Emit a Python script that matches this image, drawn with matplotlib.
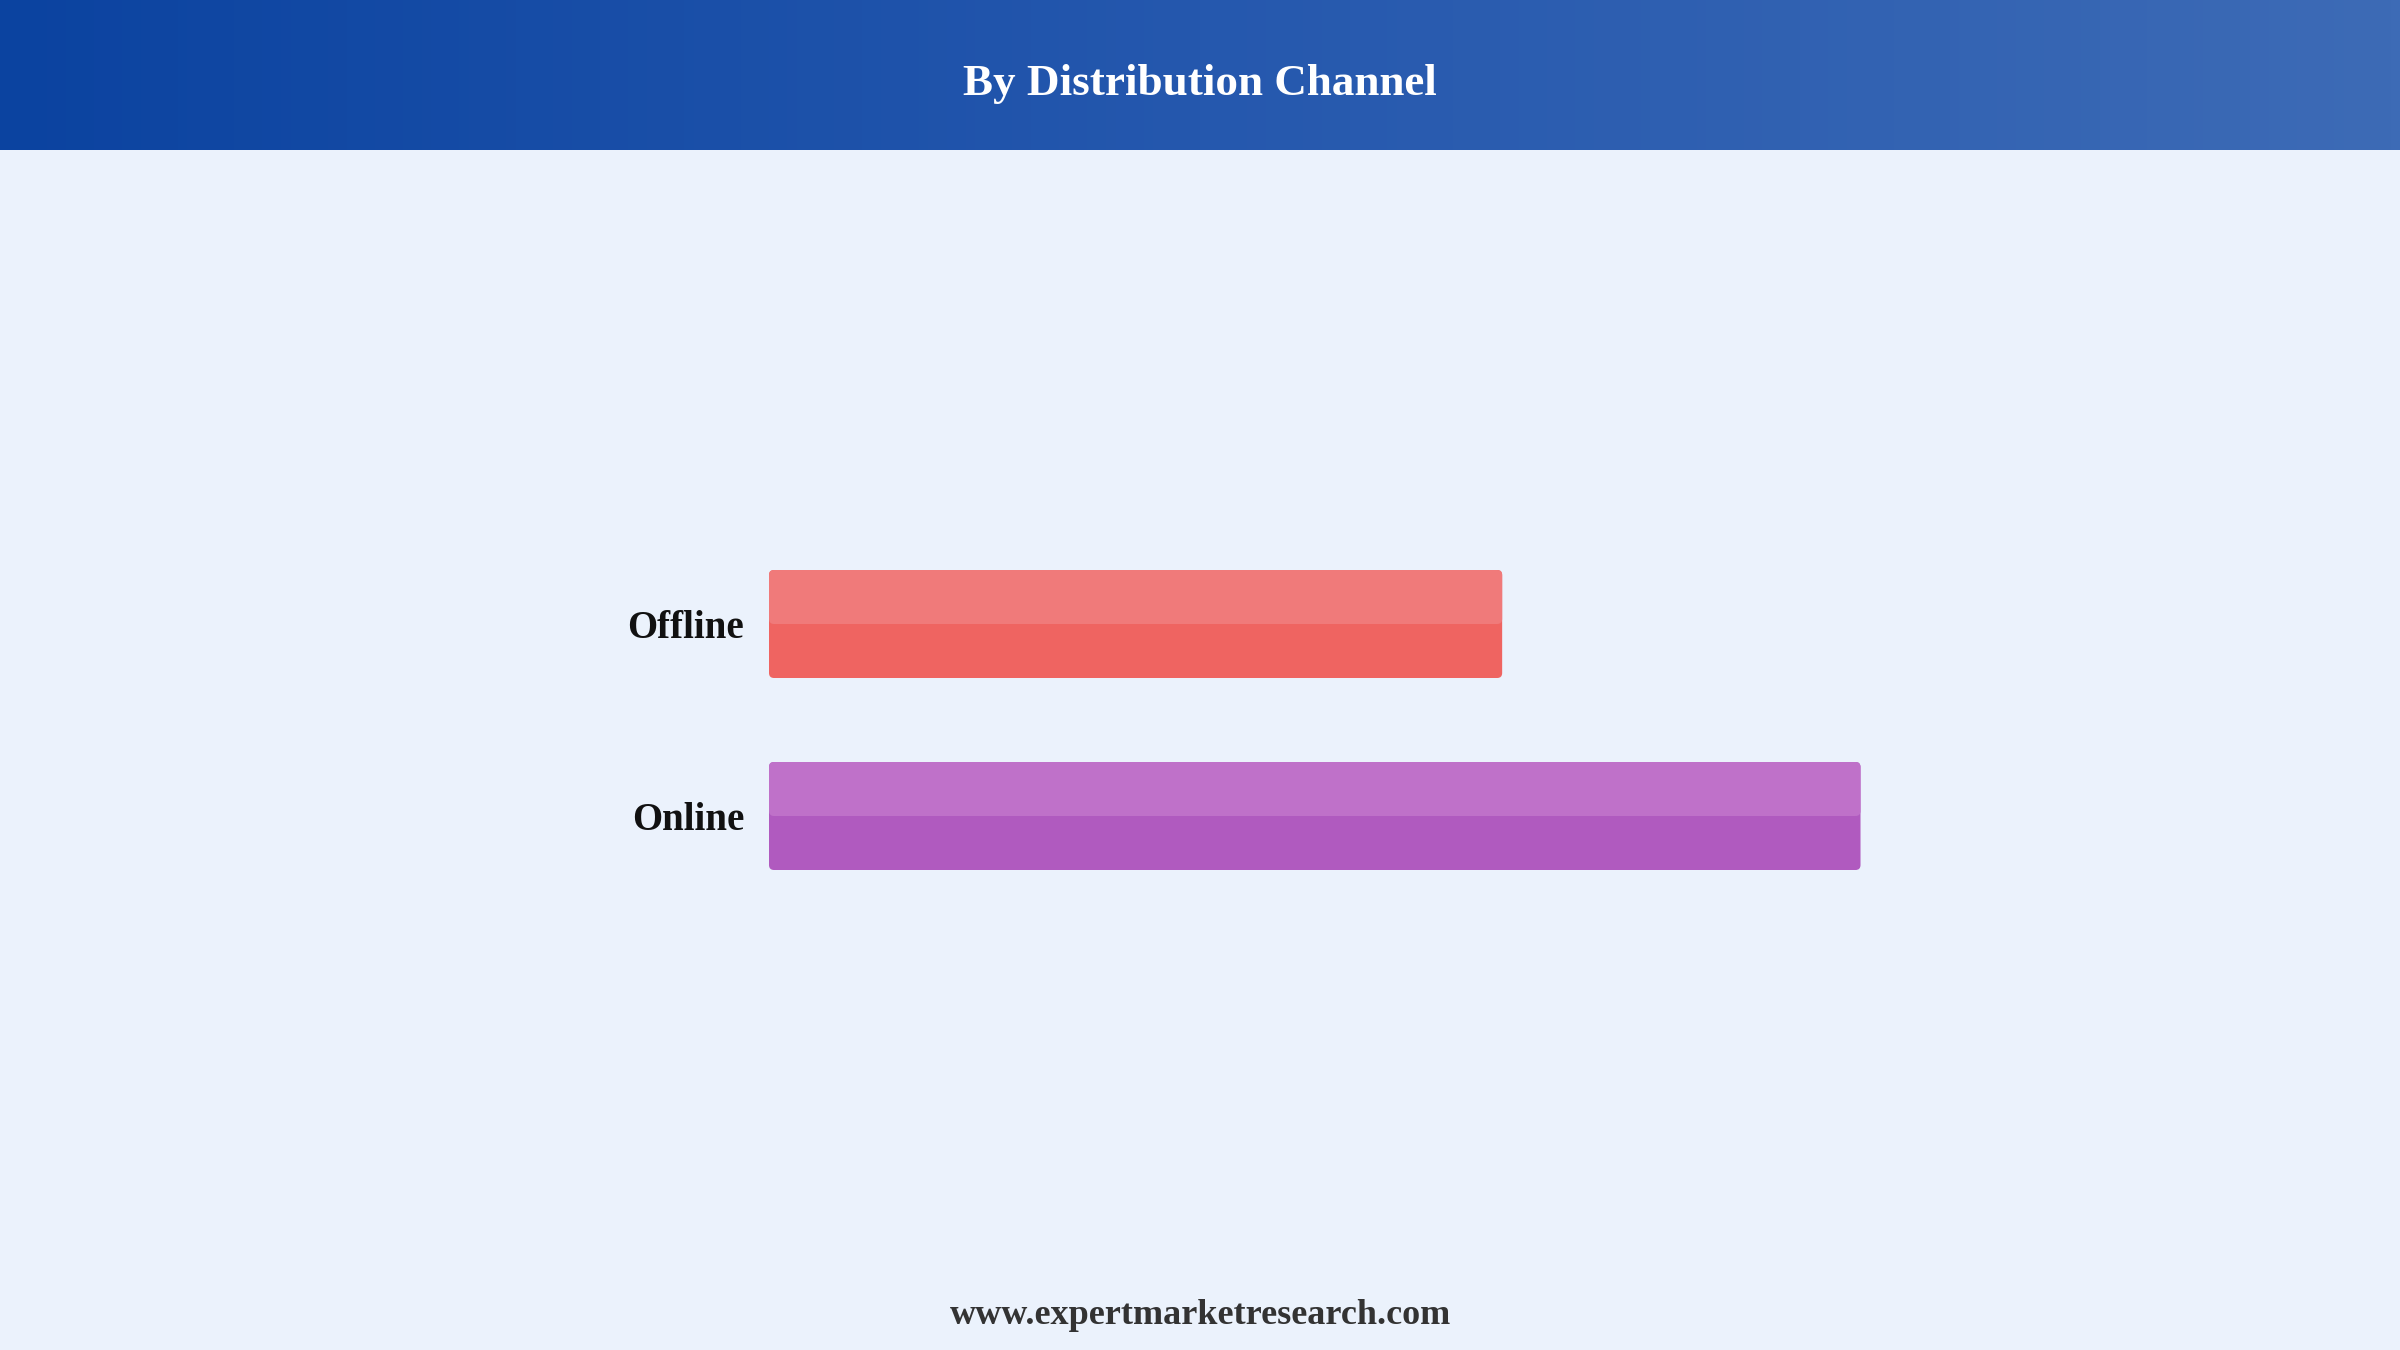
import matplotlib
matplotlib.use('Agg')
import matplotlib.pyplot as plt
from matplotlib.patches import FancyBboxPatch
from matplotlib.colors import LinearSegmentedColormap
import numpy as np

plt.rcParams['font.family'] = ['Liberation Serif', 'DejaVu Serif']
plt.rcParams['font.weight'] = 'bold'

# data
categories = ['Offline', 'Online']
values = [40.1, 59.7]
colors_top = ['#F07A7A', '#BF71C9']
colors_bottom = ['#EF6461', '#B05ABF']

bg = '#EBF2FC'
W, H = 2400, 1350
fig = plt.figure(figsize=(24, 13.5), dpi=100, facecolor=bg)

# header band with horizontal gradient
hdr = fig.add_axes([0, 1 - 150 / H, 1, 150 / H])
cmap = LinearSegmentedColormap.from_list('hdr', ['#0B43A0', '#2558AE', '#3D6BB6'])
hdr.imshow(np.linspace(0, 1, 256).reshape(1, -1), aspect='auto', cmap=cmap,
           extent=[0, 1, 0, 1])
hdr.set_axis_off()
fig.text(0.5, 1 - 84 / H, 'By Distribution Channel', ha='center', va='center',
         color='white', fontsize=32.5, fontweight='bold')

# bar chart
ax = fig.add_axes([769 / W, 1 - 912 / H, 1097 / W, 384 / H])
ax.set_facecolor(bg)
ax.set_xlim(0, 60)
ax.set_ylim(1.5, -0.5)
bar_h = 0.5625

# pixel scales used for rounded corners
px_x = (1097 / 60)
px_y = 384 / 2.0
aspect = px_x / px_y
r = 5 / px_x

for i, (cat, v) in enumerate(zip(categories, values)):
    y0 = i - bar_h / 2
    base = FancyBboxPatch((0, y0), v, bar_h,
                          boxstyle=f'round,pad=0,rounding_size={r}',
                          mutation_aspect=aspect, facecolor=colors_bottom[i],
                          edgecolor='none')
    ax.add_patch(base)
    top = FancyBboxPatch((0, y0), v, bar_h / 2,
                         boxstyle=f'round,pad=0,rounding_size={r}',
                         mutation_aspect=aspect, facecolor=colors_top[i],
                         edgecolor='none')
    ax.add_patch(top)

ax.set_yticks(range(len(categories)))
ax.set_yticklabels(categories, fontsize=28, fontweight='bold', color='#111111')
ax.tick_params(axis='y', length=0, pad=18)
ax.set_xticks([])
for s in ax.spines.values():
    s.set_visible(False)

fig.text(0.5, 1 - 1316 / H, 'www.expertmarketresearch.com', ha='center',
         va='center', color='#333333', fontsize=26, fontweight='bold')

fig.savefig('out.png', dpi=100, facecolor=bg)
